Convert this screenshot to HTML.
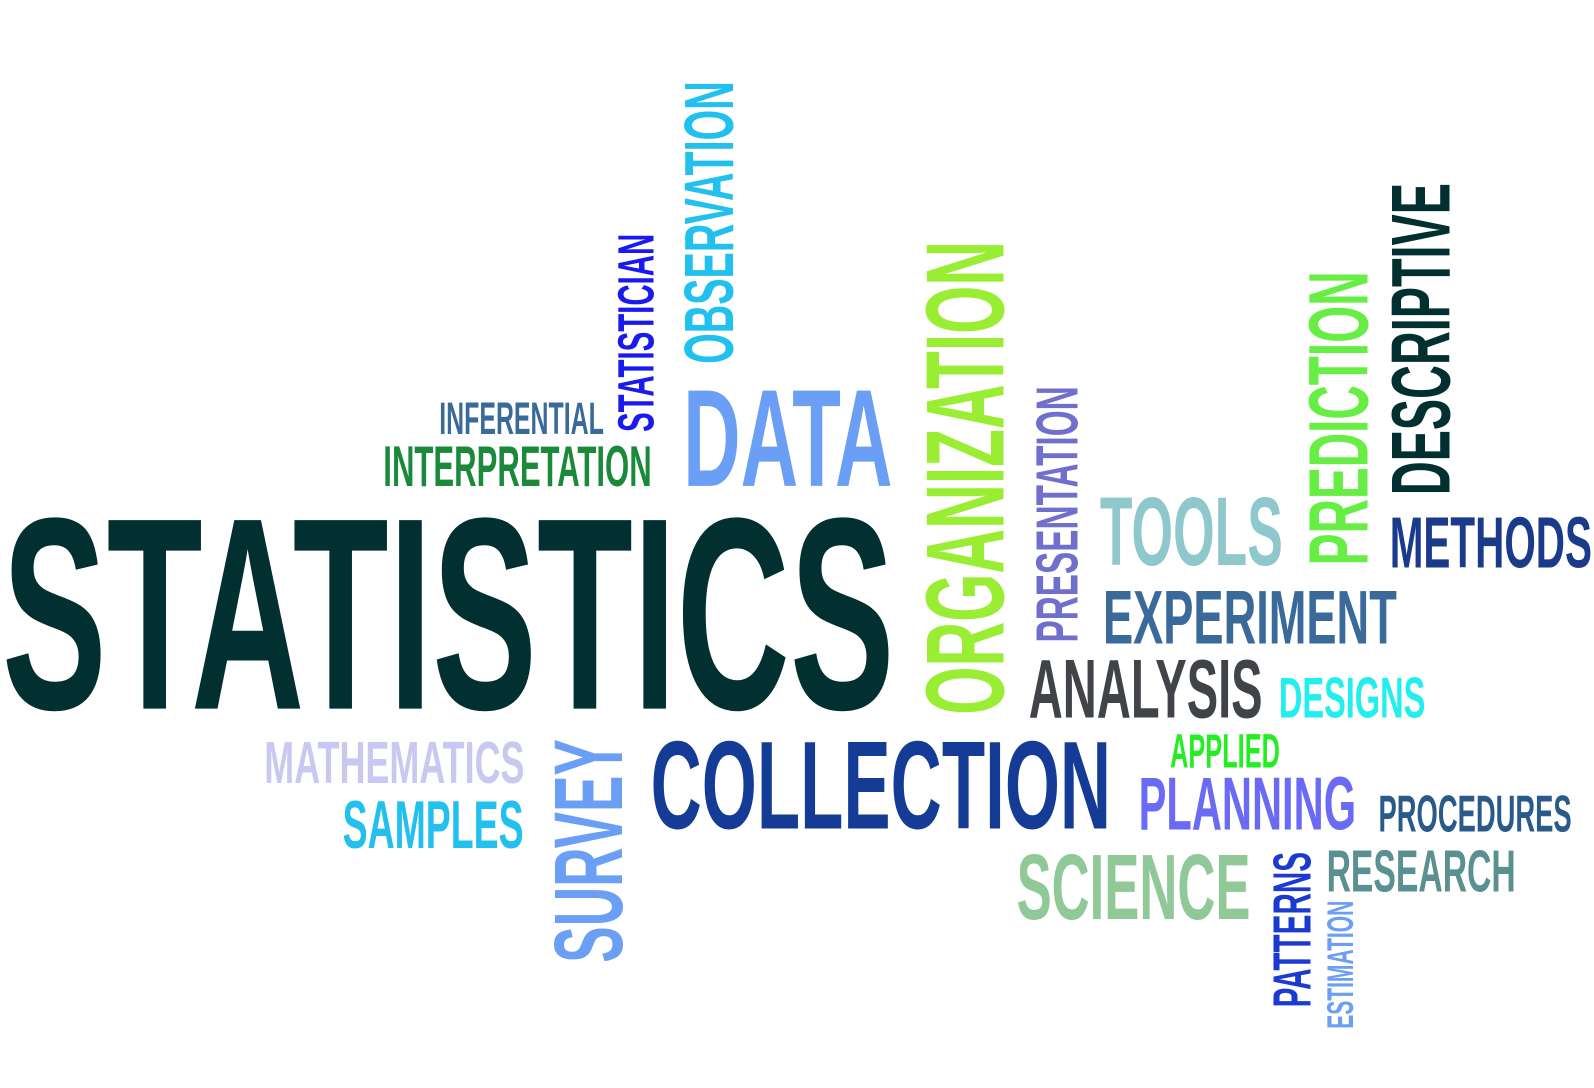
<!DOCTYPE html>
<html>
<head>
<meta charset="utf-8">
<style>
html,body{margin:0;padding:0;background:#fff;}
svg{display:block;}
text{font-family:"Liberation Sans Narrow","Liberation Sans",sans-serif;font-weight:bold;}
</style>
</head>
<body>
<svg id="cloud" width="1594" height="1088" viewBox="0 0 1594 1088" xmlns="http://www.w3.org/2000/svg">
<rect width="1594" height="1088" fill="#fff"/>
</svg>
<script>
// word, x1, y1, x2, y2, color, vertical
const words = [
 ["STATISTICS",2,503,880,697,"#023030",0],
 ["DATA",672,380,878,478,"#6b9ef5",0],
 ["INFERENTIAL",432,395,594,427,"#3a6a9a",0],
 ["INTERPRETATION",377,437,641,478,"#1a8a3a",0],
 ["TOOLS",1082,487,1262,556,"#8fc8cc",0],
 ["METHODS",1367,507,1566,558,"#1a3a8a",0],
 ["EXPERIMENT",1085,579,1374,633,"#3a6a9a",0],
 ["ANALYSIS",1012,647,1242,706,"#404448",0],
 ["DESIGNS",1258,665,1402,706,"#22eeee",0],
 ["APPLIED",1151,721,1259,755,"#22ee22",0],
 ["MATHEMATICS",260,728,516,770,"#c8c8f0",0],
 ["SAMPLES",337,786,515,834,"#22c0ee",0],
 ["COLLECTION",640,726,1093,815,"#143c96",0],
 ["PLANNING",1120,763,1334,816,"#6a6af5",0],
 ["PROCEDURES",1356,781,1546,818,"#2a5a8a",0],
 ["SCIENCE",1000,838,1230,904,"#90c898",0],
 ["RESEARCH",1305,835,1491,877,"#5a9090",0],
 ["OBSERVATION",672,80,721,358,"#22c0ee",1],
 ["STATISTICIAN",607,230,643,425,"#1a1aee",1],
 ["ORGANIZATION",908,237,987,703,"#99ee33",1],
 ["PRESENTATION",1018,380,1060,632,"#7070cc",1],
 ["PREDICTION",1285,267,1345,556,"#66ee44",1],
 ["DESCRIPTIVE",1367,180,1426,487,"#023030",1],
 ["SURVEY",543,727,612,947,"#6b9ef5",1],
 ["PATTERNS",1251,838,1289,991,"#1a3ad0",1],
 ["ESTIMATION",1305,886,1331,1012,"#6b9ef5",1]
];
const S = 1594/1568;
const svg = document.getElementById('cloud');
const NS = "http://www.w3.org/2000/svg";
const CAP = 0.72;
words.forEach(w => {
  const word = w[0], color = w[5], vert = w[6];
  const x1 = w[1]*S, y1 = w[2]*S, x2 = w[3]*S, y2 = w[4]*S;
  const t = document.createElementNS(NS,'text');
  
  
  t.setAttribute('fill', color);
  t.setAttribute('lengthAdjust', 'spacingAndGlyphs');
  if (!vert) {
    t.setAttribute('x', x1.toFixed(1));
    t.setAttribute('y', y2.toFixed(1));
    t.setAttribute('font-size', ((y2-y1)/CAP).toFixed(1));
    t.setAttribute('textLength', (x2-x1).toFixed(1));
  } else {
    t.setAttribute('x', 0);
    t.setAttribute('y', 0);
    t.setAttribute('transform', 'translate(' + x2.toFixed(1) + ',' + y2.toFixed(1) + ') rotate(-90)');
    t.setAttribute('font-size', ((x2-x1)/CAP).toFixed(1));
    t.setAttribute('textLength', (y2-y1).toFixed(1));
  }
  t.textContent = word;
  svg.appendChild(t);
});
</script>
</body>
</html>
